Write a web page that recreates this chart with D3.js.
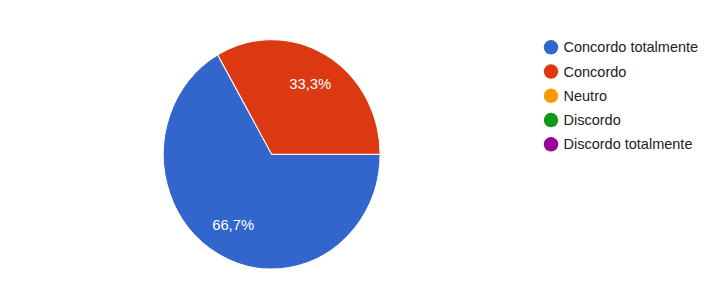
<!DOCTYPE html>
<html>
<head>
<meta charset="utf-8">
<script src="https://cdn.jsdelivr.net/npm/d3@7"></script>
<style>
  html, body { margin: 0; padding: 0; background: #fff; }
  svg { display: block; }
</style>
</head>
<body>
<script>
const categories = ["Concordo totalmente", "Concordo", "Neutro", "Discordo", "Discordo totalmente"];
const values = [66.7, 33.3, 0, 0, 0];
const colors = ["#3366cc", "#dc3912", "#ff9900", "#109618", "#990099"];

const W = 712, H = 286;
const cx = 271.7, cy = 154.3, r = 108.4, yStretch = 1.058;

const svg = d3.select("body").append("svg").attr("width", W).attr("height", H);

const data = categories.map((c, i) => ({ cat: c, value: values[i], color: colors[i] }));
const total = d3.sum(values);

const pie = d3.pie().value(d => d.value).sort(null)
  .startAngle(Math.PI / 2).endAngle(Math.PI / 2 + 2 * Math.PI);
const arcs = pie(data).filter(a => a.data.value > 0);

const arc = d3.arc().innerRadius(0).outerRadius(r);
const labelArc = d3.arc().innerRadius(r * 0.71).outerRadius(r * 0.71);

const g = svg.append("g").attr("transform", `translate(${cx},${cy}) scale(1,${yStretch})`);
g.selectAll("path").data(arcs).join("path")
  .attr("d", arc)
  .attr("fill", d => d.data.color)
  .attr("stroke", "#fff")
  .attr("stroke-width", 1);

const fmt = v => d3.format(".1f")(v).replace(".", ",") + "%";
svg.append("g").selectAll("text").data(arcs).join("text")
  .attr("x", d => cx + labelArc.centroid(d)[0])
  .attr("y", d => cy + labelArc.centroid(d)[1] * yStretch)
  .attr("text-anchor", "middle")
  .attr("dominant-baseline", "central")
  .attr("fill", "#fff")
  .attr("font-family", "'Liberation Sans', Arial, sans-serif")
  .attr("font-size", "14.8px")
  .text(d => fmt(d.data.value / total * 100));

const ly = d3.scalePoint().domain(categories).range([47.3, 144.3]);
const leg = svg.append("g").selectAll("g").data(data).join("g")
  .attr("transform", d => `translate(551,${ly(d.cat)})`);
leg.append("circle").attr("r", 7.2).attr("fill", d => d.color);
leg.append("text")
  .attr("x", 12.5)
  .attr("dominant-baseline", "central")
  .attr("fill", "#222")
  .attr("font-family", "'Liberation Sans', Arial, sans-serif")
  .attr("font-size", "14.5px")
  .text(d => d.cat);
</script>
</body>
</html>
